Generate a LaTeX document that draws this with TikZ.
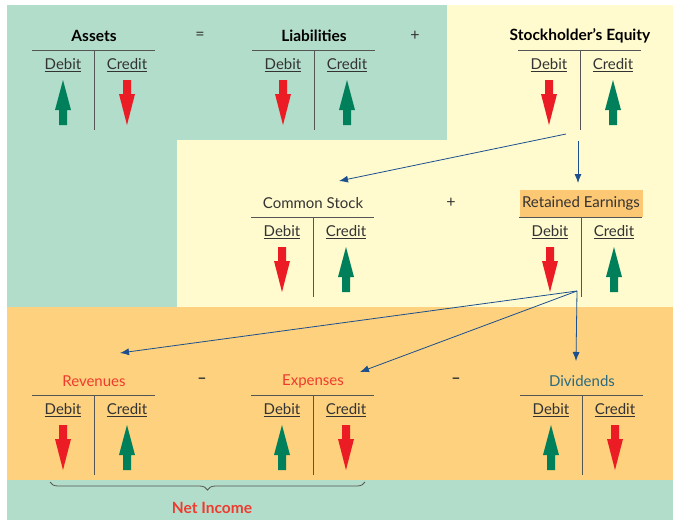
\documentclass[tikz,border=0pt]{standalone}
\usepackage{fontspec}
\setmainfont{Lato}
\usetikzlibrary{arrows.meta,decorations.pathreplacing}

\definecolor{tealbg}{HTML}{B3DDCB}
\definecolor{yellowbg}{HTML}{FFFBCF}
\definecolor{orangebg}{HTML}{FDD17D}
\definecolor{rebox}{HTML}{FCC874}
\definecolor{upgreen}{HTML}{00805A}
\definecolor{downred}{HTML}{EC1C24}
\definecolor{linkblue}{HTML}{1B4F8E}
\definecolor{textgray}{HTML}{333333}
\definecolor{rulegray}{HTML}{555555}
\definecolor{titlered}{HTML}{EE3B2E}
\definecolor{divblue}{HTML}{2B6A7F}

\tikzset{
  title/.style={font=\fontsize{15}{17}\selectfont, text=textgray, inner sep=1pt},
  boldtitle/.style={font=\fontsize{15.5}{17}\selectfont\bfseries, text=black},
  side/.style={font=\fontsize{15}{17}\selectfont, text=textgray, inner sep=1pt},
  oper/.style={font=\fontsize{16}{18}\selectfont, text=textgray},
  rule/.style={rulegray, line width=0.9pt},
  link/.style={linkblue, line width=0.8pt, -{Latex[length=9pt,width=7pt]}},
  greenup/.pic={\fill[upgreen] (0,0) -- (8,30) -- (4,30) -- (4,45) -- (-4,45) -- (-4,30) -- (-8,30) -- cycle;},
  reddown/.pic={\fill[downred] (-4,0) -- (4,0) -- (4,14) -- (8,14) -- (0,45) -- (-8,14) -- (-4,14) -- cycle;}
}

% T account: name, x of rule, y of title, title style, title, debit arrow, credit arrow
\newcommand{\tacct}[7]{%
  \node[title,#4] (#1) at (#2,#3) {#5};
  \draw[rule] (#2-62,#3+14) -- (#2+61,#3+14);
  \draw[rule] (#2,#3+14) -- (#2,#3+94) coordinate (#1-foot);
  \node[side] (#1-dr) at (#2-31,#3+29) {\underline{Debit}};
  \node[side] (#1-cr) at (#2+33,#3+29) {\underline{Credit}};
  \pic at (#2-31,#3+44) {#6};
  \pic at (#2+33,#3+44) {#7};
}

\begin{document}
\begin{tikzpicture}[x=1pt, y=-1pt]
  \useasboundingbox (0,0) rectangle (673,520);
  % backgrounds
  \fill[white] (0,0) rectangle (673,520);
  \fill[tealbg] (7,5) rectangle (673,520);
  \fill[yellowbg] (447,5) -- (673,5) -- (673,307) -- (177,307) -- (177,140) -- (447,140) -- cycle;
  \fill[orangebg] (7,307) rectangle (673,480);

  % top row
  \tacct{assets}{94}{36}{boldtitle}{Assets}{greenup}{reddown}
  \node[oper] (eq) at (200,36) {=};
  \tacct{liab}{314}{36}{boldtitle}{Liabilities}{reddown}{greenup}
  \node[oper] (plus1) at (415,36) {+};
  \tacct{se}{580}{36}{boldtitle}{Stockholder’s Equity}{reddown}{greenup}

  % middle row
  \tacct{cs}{313}{203}{}{Common Stock}{reddown}{greenup}
  \node[oper] (plus2) at (451,203) {+};
  \tacct{re}{581}{203}{fill=rebox, minimum width=123pt, minimum height=27pt}{Retained Earnings}{reddown}{greenup}

  % bottom row
  \tacct{rev}{94}{381}{text=titlered}{Revenues}{reddown}{greenup}
  \node[oper] (minus1) at (202,381) {\textbf{–}};
  \tacct{exp}{313}{381}{text=titlered}{Expenses}{greenup}{reddown}
  \node[oper] (minus2) at (456,381) {\textbf{–}};
  \tacct{div}{582}{381}{text=divblue}{Dividends}{greenup}{reddown}

  % connectors
  \coordinate (se-out) at ([shift={(-14,4)}]se-foot);
  \coordinate (se-down) at ([shift={(-2,11)}]se-foot);
  \coordinate (cs-in) at ([shift={(26,-22)}]cs.center);
  \coordinate (re-in) at ([shift={(-3,-20)}]re.center);
  \draw[link] (se-out) -- (cs-in);
  \draw[link] (se-down) -- (re-in);

  \coordinate (re-out) at ([shift={(-4,-6)}]re-foot);
  \coordinate (rev-in) at ([shift={(26,-28)}]rev.center);
  \coordinate (exp-in) at ([shift={(47,-9)}]exp.center);
  \coordinate (div-in) at ([shift={(-6,-20)}]div.center);
  \draw[link] (re-out) -- (rev-in);
  \draw[link] (re-out) -- (exp-in);
  \draw[link] (re-out) -- (div-in);

  % net income
  \coordinate (brace-l) at (50,482);
  \coordinate (brace-r) at (365,482);
  \draw[rulegray, line width=0.8pt, decorate, decoration={brace, mirror, amplitude=8pt}] (brace-l) -- (brace-r);
  \node[font=\fontsize{15.5}{17}\selectfont\bfseries, text=titlered] (netinc) at (212,508) {Net Income};
\end{tikzpicture}
\end{document}
